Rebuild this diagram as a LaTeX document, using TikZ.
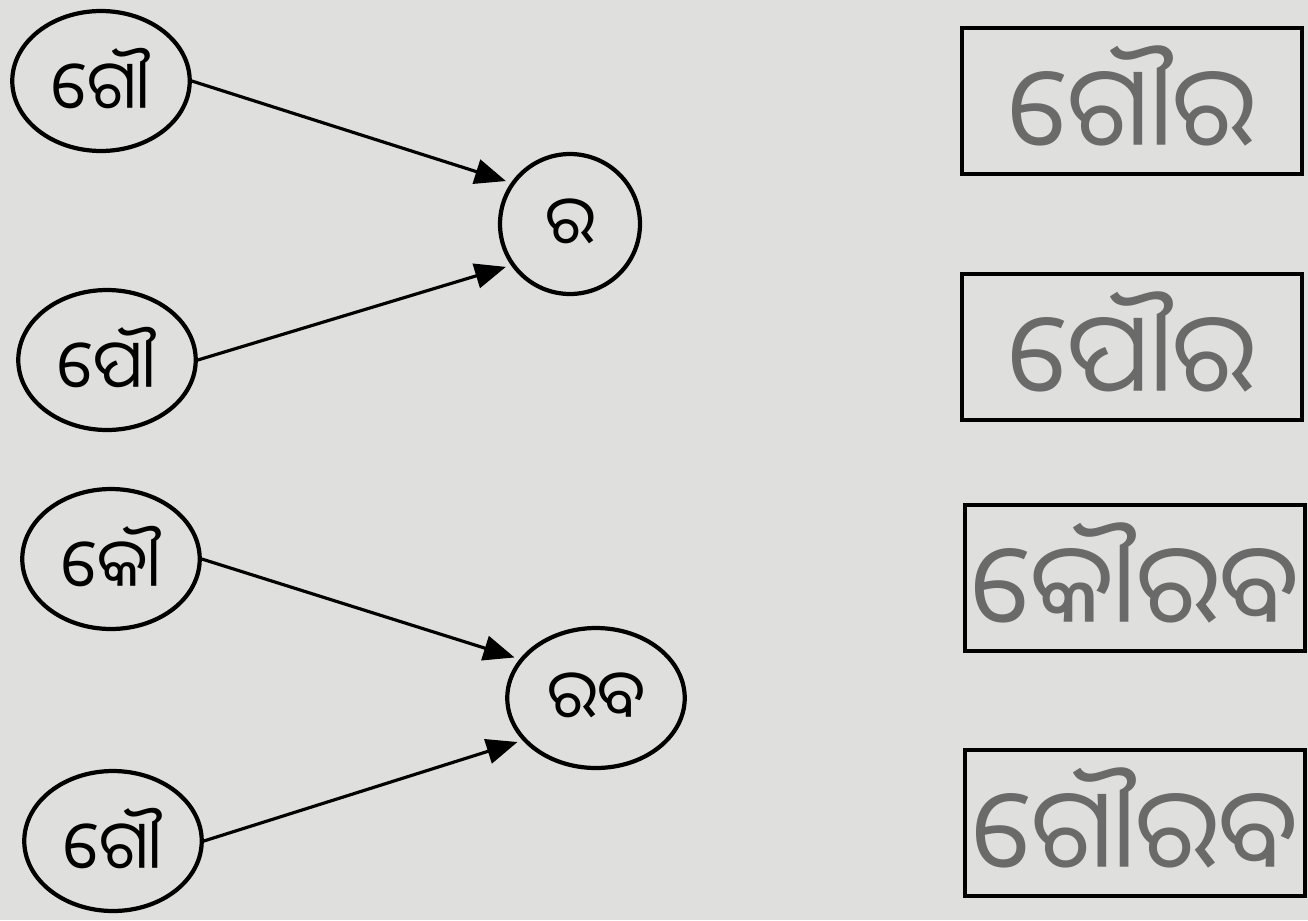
\documentclass[tikz,border=0pt]{standalone}
\usepackage{fontspec}
\newfontfamily\oriya[Script=Oriya]{Noto Sans Oriya UI}
\usetikzlibrary{shapes.geometric, arrows.meta, positioning}
\definecolor{paper}{HTML}{DFDFDD}
\definecolor{pencil}{HTML}{6A6A6A}

\begin{document}
\begin{tikzpicture}[
    x=0.02cm, y=-0.02cm,
    syll/.style={ellipse, draw, line width=2.4pt, minimum width=3.55cm, minimum height=2.8cm, inner sep=0pt, font=\oriya\fontsize{38}{42}\selectfont},
    root/.style={circle, draw, line width=2.4pt, minimum size=2.8cm, inner sep=0pt, font=\oriya\fontsize{38}{42}\selectfont},
    word/.style={rectangle, draw, line width=2.4pt, minimum width=6.8cm, minimum height=2.92cm, inner sep=0pt, text=pencil, font=\oriya\fontsize{63}{66}\selectfont},
    arrow/.style={-{Triangle[length=0.62cm, width=0.5cm]}, line width=1.8pt, shorten >=3pt}
]

% Paper
\fill[paper] (0,0) rectangle (1308,920);
\useasboundingbox (0,0) rectangle (1308,920);

% Syllables
\node[syll] (gau1) at (101,81) {ଗୌ};
\node[syll] (pau) at (107,360) {ପୌ};
\node[syll] (kau) at (111,559) {କୌ};
\node[syll] (gau2) at (113,841) {ଗୌ};

% Endings
\node[root] (ra) at (570,224) {ର};
\node[syll] (rab) at (596,698) {ରବ};

% Words
\node[word] (gaura) at (1132,101) {ଗୌର};
\node[word] (paura) at (1132,347) {ପୌର};
\node[word] (kaurab) at (1135,578) {କୌରବ};
\node[word] (gaurab) at (1135,823) {ଗୌରବ};

% Arrows
\draw[arrow] (gau1.east) -- (ra.145);
\draw[arrow] (pau.east) -- (ra.215);
\draw[arrow] (kau.east) -- (rab.153);
\draw[arrow] (gau2.east) -- (rab.210);

\end{tikzpicture}
\end{document}
